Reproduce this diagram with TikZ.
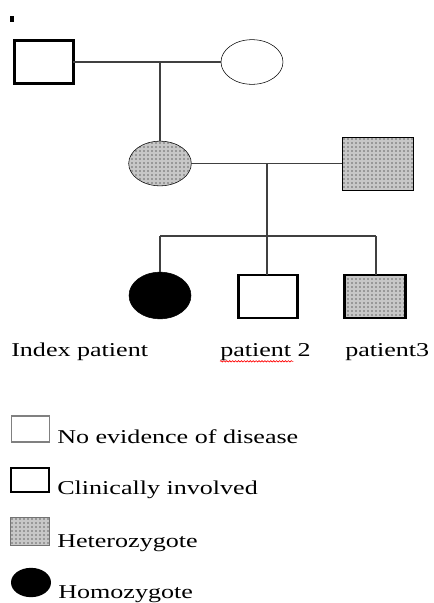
\documentclass[tikz,border=0pt]{standalone}
\usepackage{fontspec}
\setmainfont[FakeStretch=1.33]{Liberation Serif}
\usetikzlibrary{shapes.geometric,patterns,decorations.pathmorphing}

\tikzset{
    male/.style={draw, rectangle, inner sep=0pt, outer sep=0pt, minimum width=46.5pt, minimum height=34pt},
    female/.style={draw, ellipse, inner sep=0pt, outer sep=0pt, minimum width=46.5pt, minimum height=34pt},
    affected/.style={line width=1.9pt},
    carrier/.style={fill=black!22, postaction={pattern=dots, pattern color=black}},
    homo/.style={fill=black},
    rel/.style={draw=black!75, line width=0.9pt},
    lbl/.style={anchor=base west, inner sep=0pt, font=\fontsize{14.7}{17}\selectfont}
}

\begin{document}
\begin{tikzpicture}[x=0.75pt,y=0.75pt,yscale=-1,xscale=1]
    \useasboundingbox (0,0) rectangle (433,603);

    %Shape: Free Drawing [dot]
    \fill (9.5,16) rectangle (13.5,21.5) ;

    %Shape: Rectangle [grandfather]
    \node [male, affected, minimum width=44pt, minimum height=32.5pt] (gf) at (44,62) {};
    %Shape: Ellipse [grandmother]
    \node [female, minimum height=33.5pt] (gm) at (252,62) {};
    %Shape: Ellipse [mother]
    \node [female, carrier, minimum width=47pt, minimum height=33.5pt] (mo) at (160,163.5) {};
    %Shape: Rectangle [father]
    \node [male, carrier, minimum width=53.25pt, minimum height=39.75pt] (fa) at (377.5,163.5) {};
    %Shape: Ellipse [index patient]
    \node [female, homo, minimum height=35pt] (ip) at (160,295.5) {};
    %Shape: Rectangle [patient 2]
    \node [male, affected, minimum width=44.5pt, minimum height=32pt] (ptwo) at (268,296.5) {};
    %Shape: Rectangle [patient 3]
    \node [male, affected, carrier, minimum width=46pt, minimum height=32pt] (pthree) at (375,296.5) {};

    %Straight Lines [marriages and descent]
    \coordinate (mA) at (160,62) ;
    \coordinate (mB) at (267,163.5) ;
    \coordinate (sib) at (267,236) ;
    \coordinate (sibL) at (160,236) ;
    \coordinate (sibR) at (376,236) ;
    \draw [rel] (gf) -- (gm) ;
    \draw [rel] (mA) -- (mo) ;
    \draw [rel] (mo) -- (fa) ;
    \draw [rel] (mB) -- (sib) ;
    \draw [rel] (sibL) -- (sibR) ;
    \draw [rel] (sibL) -- (ip) ;
    \draw [rel] (sib) -- (sib |- ptwo.north) ;
    \draw [rel] (sibR) -- (sibR |- pthree.north) ;

    % Text Node
    \node [lbl] (lip) at (11,356) {Index patient};
    % Text Node
    \node [lbl] (lptwo) at (220,356) {patient 2};
    % Text Node
    \node [lbl] (lpthree) at (345,356) {patient3};
    %Curve Lines [spelling squiggle]
    \draw [red, line width=0.5pt, decorate, decoration={snake, amplitude=0.5pt, segment length=2.2pt}] ([yshift=4pt]lptwo.base west) -- ([yshift=4pt, xshift=55pt]lptwo.base west) ;

    %Shape: Rectangle [key]
    \node [draw=black!50, line width=1.4pt, inner sep=0pt, minimum width=28.5pt, minimum height=20pt] (knone) at (30.5,429) {};
    \node [draw, line width=1.9pt, inner sep=0pt, minimum width=28.5pt, minimum height=18pt] (kclin) at (30,480) {};
    \node [draw=black!55, line width=1pt, carrier, inner sep=0pt, minimum width=29pt, minimum height=21pt] (khet) at (30,531.5) {};
    \node [ellipse, homo, inner sep=0pt, minimum width=30pt, minimum height=22pt] (khom) at (31,582.5) {};

    % Text Node
    \node [lbl] (tnone) at (57,443) {No evidence of disease};
    % Text Node
    \node [lbl] (tclin) at (57,494) {Clinically involved};
    % Text Node
    \node [lbl] (thet) at (57,547) {Heterozygote};
    % Text Node
    \node [lbl] (thom) at (58,598) {Homozygote};

\end{tikzpicture}
\end{document}
